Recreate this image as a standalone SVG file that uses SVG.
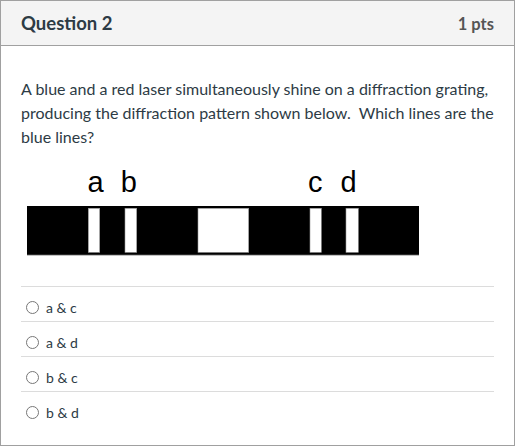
<svg xmlns="http://www.w3.org/2000/svg" width="516" height="447" viewBox="0 0 516 447">
<style>
.lato{font-family:Lato,"Open Sans","Liberation Sans",sans-serif;fill:#2d3b45}
.q{font-size:16px;white-space:pre}
.opt{font-size:14px}
.lbl{font-family:"Liberation Sans",Arial,sans-serif;font-size:29px;fill:#000}
.sep{stroke:#dcdcdc;stroke-width:1}
.radio{fill:#fff;stroke:#777;stroke-width:1}
.slit{fill:#fff;stroke:#999;stroke-width:0.6}
</style>
<rect x="0.5" y="0.5" width="514" height="445" fill="#fff" stroke="#a0a0a0"/>
<g id="header">
<rect x="1" y="1" width="513" height="45" fill="#f4f4f4"/>
<line x1="0" y1="45.5" x2="515" y2="45.5" stroke="#a0a0a0"/>
<text class="lato" x="21" y="30" font-size="18.5" font-weight="700">Question 2</text>
<text class="lato" x="494" y="29.5" font-size="16.5" font-weight="700" text-anchor="end" style="fill:#555">1 pts</text>
</g>
<g id="question">
<text class="lato q" x="21" y="95">A blue and a red laser simultaneously shine on a diffraction grating,</text>
<text class="lato q" x="21" y="119" xml:space="preserve">producing the diffraction pattern shown below.  Which lines are the</text>
<text class="lato q" x="21" y="143">blue lines?</text>
</g>
<g id="pattern">
<rect x="27" y="206" width="392" height="49" fill="#000"/>
<line x1="27" y1="255" x2="419" y2="255" stroke="#666" stroke-width="0.8"/>
<rect class="slit" x="88.3" y="208.3" width="11.4" height="44"/>
<rect class="slit" x="125" y="208.3" width="11.7" height="44"/>
<rect class="slit" x="198" y="208.3" width="50.7" height="44"/>
<rect class="slit" x="310" y="208.3" width="11.3" height="44"/>
<rect class="slit" x="346" y="208.3" width="12.3" height="44"/>
<text class="lbl" x="87.5" y="192.3">a</text>
<text class="lbl" x="120.7" y="192.3">b</text>
<text class="lbl" x="308" y="192.3">c</text>
<text class="lbl" x="340.5" y="192.3">d</text>
</g>
<g id="options">
<line class="sep" x1="21" y1="286.5" x2="494" y2="286.5"/>
<line class="sep" x1="21" y1="321.5" x2="494" y2="321.5"/>
<line class="sep" x1="21" y1="356.5" x2="494" y2="356.5"/>
<line class="sep" x1="21" y1="391.5" x2="494" y2="391.5"/>
<g id="opt1"><circle class="radio" cx="32.5" cy="307.5" r="6"/><text class="lato opt" x="46" y="312.5">a &amp; c</text></g>
<g id="opt2"><circle class="radio" cx="32.5" cy="342.5" r="6"/><text class="lato opt" x="46" y="347.5">a &amp; d</text></g>
<g id="opt3"><circle class="radio" cx="32.5" cy="377.5" r="6"/><text class="lato opt" x="46" y="382.5">b &amp; c</text></g>
<g id="opt4"><circle class="radio" cx="32.5" cy="412.5" r="6"/><text class="lato opt" x="46" y="417.5">b &amp; d</text></g>
</g>
</svg>
